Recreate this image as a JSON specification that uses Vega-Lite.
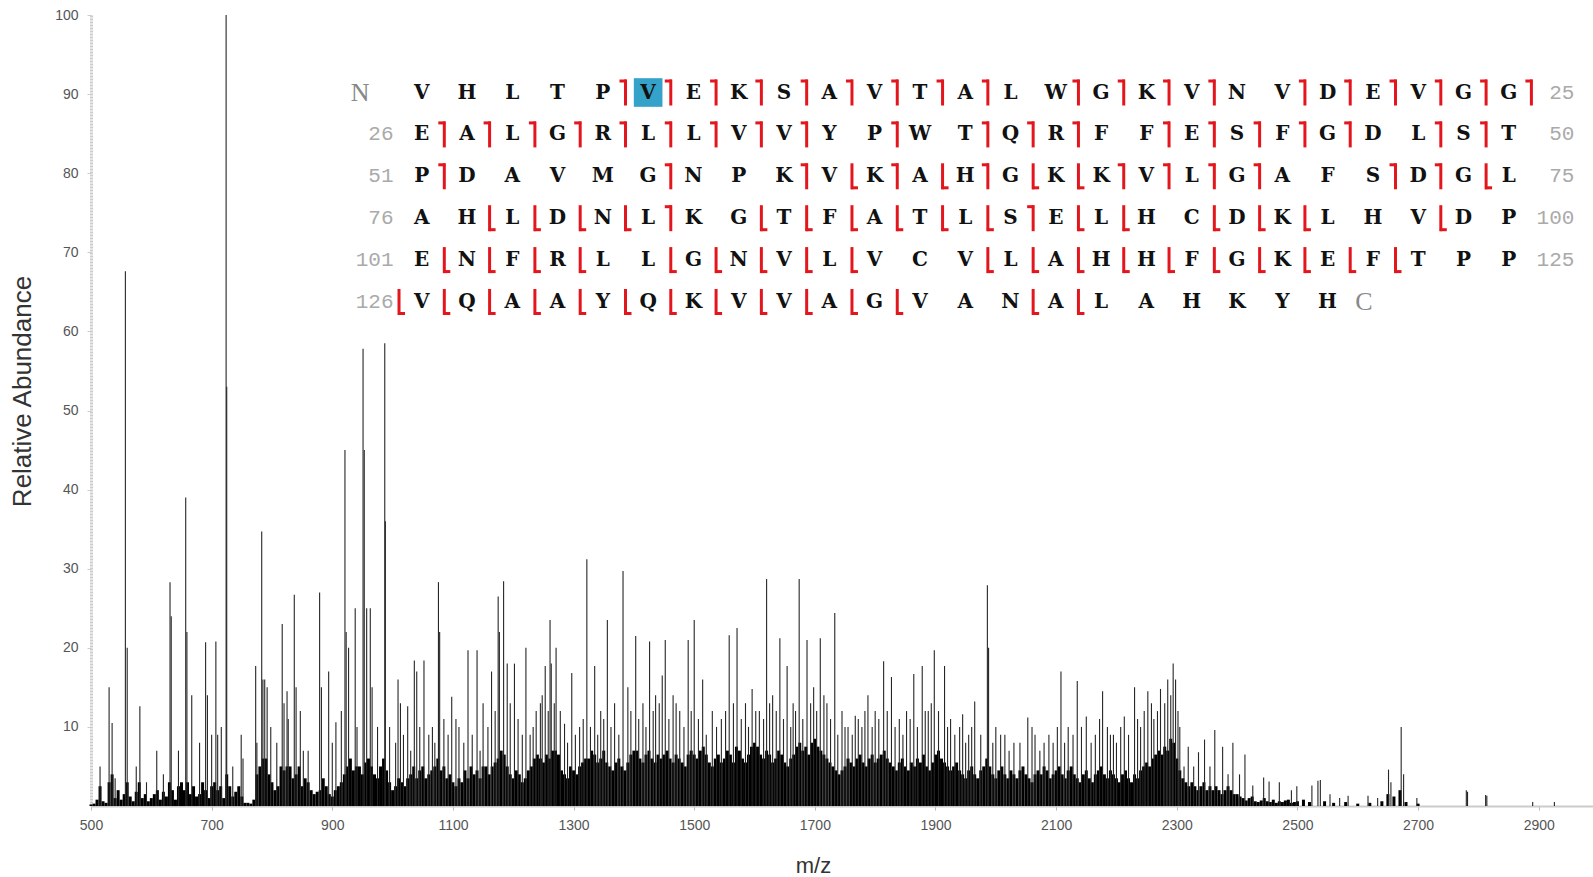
{
"$schema": "https://vega.github.io/schema/vega-lite/v6.json",
"width": 1502, "height": 791,
"autosize": {"type": "none"},
"padding": {"left": 91, "top": 15, "right": 0, "bottom": 71},
"background": "white",
"config": {"view": {"stroke": null}, "font": "Liberation Sans"},
"datasets": {
"grass": [
{"mz":500,"i":0.2},{"mz":505,"i":0.3},{"mz":510,"i":0.8},{"mz":515,"i":2.5},{"mz":520,"i":0.6},{"mz":525,"i":0.4},{"mz":530,"i":3},{"mz":535,"i":4},{"mz":540,"i":1},{"mz":545,"i":2},
{"mz":550,"i":0.8},{"mz":555,"i":1.5},{"mz":560,"i":3},{"mz":565,"i":1.2},{"mz":570,"i":0.6},{"mz":575,"i":1.8},{"mz":580,"i":3},{"mz":585,"i":1},{"mz":590,"i":1.5},{"mz":595,"i":0.6},
{"mz":600,"i":1},{"mz":605,"i":1.5},{"mz":610,"i":2},{"mz":615,"i":0.8},{"mz":620,"i":1.8},{"mz":625,"i":1.2},{"mz":630,"i":3},{"mz":635,"i":2},{"mz":640,"i":0.8},{"mz":645,"i":2.5},
{"mz":650,"i":3},{"mz":655,"i":2},{"mz":660,"i":3},{"mz":665,"i":1.5},{"mz":670,"i":2.5},{"mz":675,"i":1.2},{"mz":680,"i":1.5},{"mz":685,"i":3},{"mz":690,"i":2},{"mz":695,"i":1},
{"mz":700,"i":2.5},{"mz":705,"i":3},{"mz":710,"i":2},{"mz":715,"i":2.5},{"mz":720,"i":1},{"mz":725,"i":4},{"mz":730,"i":2.5},{"mz":735,"i":1.2},{"mz":740,"i":1.8},{"mz":745,"i":2.5},
{"mz":750,"i":1.2},{"mz":755,"i":0.4},{"mz":760,"i":0.4},{"mz":765,"i":0.3},{"mz":770,"i":0.8},{"mz":775,"i":4},{"mz":780,"i":5},{"mz":785,"i":6},{"mz":790,"i":6},{"mz":795,"i":4},
{"mz":800,"i":3},{"mz":805,"i":2},{"mz":810,"i":2.5},{"mz":815,"i":5},{"mz":820,"i":4.5},{"mz":825,"i":5},{"mz":830,"i":5},{"mz":835,"i":3.5},{"mz":840,"i":4},{"mz":845,"i":5},
{"mz":850,"i":2.5},{"mz":855,"i":3.5},{"mz":860,"i":3},{"mz":865,"i":2},{"mz":870,"i":1.5},{"mz":875,"i":1.8},{"mz":880,"i":2},{"mz":885,"i":3.5},{"mz":890,"i":2.5},{"mz":895,"i":1.5},
{"mz":900,"i":1.2},{"mz":905,"i":2},{"mz":910,"i":2.5},{"mz":915,"i":3},{"mz":920,"i":4},{"mz":925,"i":5},{"mz":930,"i":6},{"mz":935,"i":4.5},{"mz":940,"i":5},{"mz":945,"i":5},
{"mz":950,"i":4},{"mz":955,"i":5.5},{"mz":960,"i":6},{"mz":965,"i":5},{"mz":970,"i":4},{"mz":975,"i":3.5},{"mz":980,"i":5},{"mz":985,"i":6},{"mz":990,"i":4.5},{"mz":995,"i":3},
{"mz":1000,"i":2},{"mz":1005,"i":2.5},{"mz":1010,"i":3.5},{"mz":1015,"i":3},{"mz":1020,"i":2.5},{"mz":1025,"i":3.5},{"mz":1030,"i":4},{"mz":1035,"i":5},{"mz":1040,"i":3.5},{"mz":1045,"i":4.5},
{"mz":1050,"i":5},{"mz":1055,"i":3.5},{"mz":1060,"i":4},{"mz":1065,"i":4.5},{"mz":1070,"i":5},{"mz":1075,"i":6},{"mz":1080,"i":4.5},{"mz":1085,"i":5},{"mz":1090,"i":3.5},{"mz":1095,"i":4},
{"mz":1100,"i":3},{"mz":1105,"i":2.5},{"mz":1110,"i":3.5},{"mz":1115,"i":3},{"mz":1120,"i":4.5},{"mz":1125,"i":3.5},{"mz":1130,"i":5},{"mz":1135,"i":4},{"mz":1140,"i":4.5},{"mz":1145,"i":3.5},
{"mz":1150,"i":5},{"mz":1155,"i":5},{"mz":1160,"i":4},{"mz":1165,"i":5},{"mz":1170,"i":5.5},{"mz":1175,"i":6},{"mz":1180,"i":7},{"mz":1185,"i":6.5},{"mz":1190,"i":5},{"mz":1195,"i":4},
{"mz":1200,"i":3.5},{"mz":1205,"i":4.5},{"mz":1210,"i":4},{"mz":1215,"i":3},{"mz":1220,"i":3.5},{"mz":1225,"i":4.5},{"mz":1230,"i":5},{"mz":1235,"i":6},{"mz":1240,"i":6.5},{"mz":1245,"i":6},
{"mz":1250,"i":5.5},{"mz":1255,"i":6.5},{"mz":1260,"i":6},{"mz":1265,"i":7},{"mz":1270,"i":7},{"mz":1275,"i":6.5},{"mz":1280,"i":4.5},{"mz":1285,"i":4},{"mz":1290,"i":3.5},{"mz":1295,"i":5},
{"mz":1300,"i":4.5},{"mz":1305,"i":4},{"mz":1310,"i":5},{"mz":1315,"i":5.5},{"mz":1320,"i":6},{"mz":1325,"i":6},{"mz":1330,"i":7},{"mz":1335,"i":6.5},{"mz":1340,"i":5.5},{"mz":1345,"i":6},
{"mz":1350,"i":7},{"mz":1355,"i":5.5},{"mz":1360,"i":5},{"mz":1365,"i":4.5},{"mz":1370,"i":5.5},{"mz":1375,"i":6},{"mz":1380,"i":5},{"mz":1385,"i":4.5},{"mz":1390,"i":5.5},{"mz":1395,"i":6.5},
{"mz":1400,"i":7},{"mz":1405,"i":7},{"mz":1410,"i":6},{"mz":1415,"i":5.5},{"mz":1420,"i":6.5},{"mz":1425,"i":7},{"mz":1430,"i":6},{"mz":1435,"i":5.5},{"mz":1440,"i":6.5},{"mz":1445,"i":6},
{"mz":1450,"i":6.5},{"mz":1455,"i":7},{"mz":1460,"i":6},{"mz":1465,"i":5.5},{"mz":1470,"i":6.5},{"mz":1475,"i":6},{"mz":1480,"i":5.5},{"mz":1485,"i":5},{"mz":1490,"i":6.5},{"mz":1495,"i":7},
{"mz":1500,"i":6.5},{"mz":1505,"i":6},{"mz":1510,"i":7},{"mz":1515,"i":7.5},{"mz":1520,"i":6.5},{"mz":1525,"i":5.5},{"mz":1530,"i":5},{"mz":1535,"i":6},{"mz":1540,"i":6.5},{"mz":1545,"i":5.5},
{"mz":1550,"i":6},{"mz":1555,"i":7},{"mz":1560,"i":6.5},{"mz":1565,"i":5.5},{"mz":1570,"i":7.5},{"mz":1575,"i":7},{"mz":1580,"i":6},{"mz":1585,"i":5.5},{"mz":1590,"i":6.5},{"mz":1595,"i":7.5},
{"mz":1600,"i":8},{"mz":1605,"i":7.5},{"mz":1610,"i":6.5},{"mz":1615,"i":6},{"mz":1620,"i":7},{"mz":1625,"i":6.5},{"mz":1630,"i":5.5},{"mz":1635,"i":6},{"mz":1640,"i":7},{"mz":1645,"i":6.5},
{"mz":1650,"i":5.5},{"mz":1655,"i":5},{"mz":1660,"i":6},{"mz":1665,"i":6.5},{"mz":1670,"i":7.5},{"mz":1675,"i":8},{"mz":1680,"i":7},{"mz":1685,"i":7.5},{"mz":1690,"i":6.5},{"mz":1695,"i":8},
{"mz":1700,"i":8.5},{"mz":1705,"i":7.5},{"mz":1710,"i":7},{"mz":1715,"i":6.5},{"mz":1720,"i":6},{"mz":1725,"i":5.5},{"mz":1730,"i":5},{"mz":1735,"i":4.5},{"mz":1740,"i":4},{"mz":1745,"i":4.5},
{"mz":1750,"i":5},{"mz":1755,"i":6},{"mz":1760,"i":5.5},{"mz":1765,"i":5},{"mz":1770,"i":6},{"mz":1775,"i":6.5},{"mz":1780,"i":5.5},{"mz":1785,"i":5},{"mz":1790,"i":6},{"mz":1795,"i":6.5},
{"mz":1800,"i":5.5},{"mz":1805,"i":6},{"mz":1810,"i":6.5},{"mz":1815,"i":7},{"mz":1820,"i":6},{"mz":1825,"i":5.5},{"mz":1830,"i":5},{"mz":1835,"i":4.5},{"mz":1840,"i":5.5},{"mz":1845,"i":6},
{"mz":1850,"i":5},{"mz":1855,"i":4.5},{"mz":1860,"i":5.5},{"mz":1865,"i":5},{"mz":1870,"i":6},{"mz":1875,"i":5.5},{"mz":1880,"i":6.5},{"mz":1885,"i":5},{"mz":1890,"i":4.5},{"mz":1895,"i":5.5},
{"mz":1900,"i":6.5},{"mz":1905,"i":7},{"mz":1910,"i":6},{"mz":1915,"i":5.5},{"mz":1920,"i":5},{"mz":1925,"i":4.5},{"mz":1930,"i":5},{"mz":1935,"i":5.5},{"mz":1940,"i":4.5},{"mz":1945,"i":4},
{"mz":1950,"i":3.5},{"mz":1955,"i":4.5},{"mz":1960,"i":5},{"mz":1965,"i":4},{"mz":1970,"i":3.5},{"mz":1975,"i":4.5},{"mz":1980,"i":5},{"mz":1985,"i":6},{"mz":1990,"i":5},{"mz":1995,"i":4},
{"mz":2000,"i":3.5},{"mz":2005,"i":4.5},{"mz":2010,"i":5},{"mz":2015,"i":4},{"mz":2020,"i":3.5},{"mz":2025,"i":4.5},{"mz":2030,"i":4},{"mz":2035,"i":3.5},{"mz":2040,"i":4.5},{"mz":2045,"i":5},
{"mz":2050,"i":4},{"mz":2055,"i":3.5},{"mz":2060,"i":3},{"mz":2065,"i":4},{"mz":2070,"i":4.5},{"mz":2075,"i":4},{"mz":2080,"i":5},{"mz":2085,"i":4.5},{"mz":2090,"i":3.5},{"mz":2095,"i":4},
{"mz":2100,"i":4.5},{"mz":2105,"i":5},{"mz":2110,"i":4},{"mz":2115,"i":3.5},{"mz":2120,"i":4.5},{"mz":2125,"i":5},{"mz":2130,"i":4},{"mz":2135,"i":3.5},{"mz":2140,"i":3},{"mz":2145,"i":4},
{"mz":2150,"i":4.5},{"mz":2155,"i":3.5},{"mz":2160,"i":3},{"mz":2165,"i":4},{"mz":2170,"i":4.5},{"mz":2175,"i":5},{"mz":2180,"i":4},{"mz":2185,"i":3.5},{"mz":2190,"i":4.5},{"mz":2195,"i":4},
{"mz":2200,"i":3.5},{"mz":2205,"i":3},{"mz":2210,"i":4},{"mz":2215,"i":4.5},{"mz":2220,"i":3.5},{"mz":2225,"i":3},{"mz":2230,"i":4},{"mz":2235,"i":3.5},{"mz":2240,"i":4.5},{"mz":2245,"i":5},
{"mz":2250,"i":5.5},{"mz":2255,"i":5},{"mz":2260,"i":6},{"mz":2265,"i":6.5},{"mz":2270,"i":7},{"mz":2275,"i":6.5},{"mz":2280,"i":7.5},{"mz":2285,"i":7},{"mz":2290,"i":8.5},{"mz":2295,"i":8},
{"mz":2300,"i":6},{"mz":2305,"i":4.5},{"mz":2310,"i":3.5},{"mz":2315,"i":3},{"mz":2320,"i":2.5},{"mz":2325,"i":3},{"mz":2330,"i":2.5},{"mz":2335,"i":2},{"mz":2340,"i":2.5},{"mz":2345,"i":3},
{"mz":2350,"i":2},{"mz":2355,"i":2.5},{"mz":2360,"i":2},{"mz":2365,"i":2.5},{"mz":2370,"i":2},{"mz":2375,"i":1.5},{"mz":2380,"i":2},{"mz":2385,"i":2.5},{"mz":2390,"i":2},{"mz":2395,"i":1.5},
{"mz":2400,"i":1.5},{"mz":2405,"i":1.2},{"mz":2410,"i":1},{"mz":2415,"i":0.7},{"mz":2420,"i":1},{"mz":2425,"i":1.2},{"mz":2430,"i":0.6},{"mz":2435,"i":0.5},{"mz":2440,"i":0.7},{"mz":2445,"i":1},
{"mz":2450,"i":0.6},{"mz":2455,"i":0.5},{"mz":2460,"i":0.8},{"mz":2465,"i":0.4},{"mz":2470,"i":0.6},{"mz":2475,"i":0.5},{"mz":2480,"i":0.7},{"mz":2485,"i":0.8},{"mz":2490,"i":0.4},{"mz":2495,"i":0.5},
{"mz":2500,"i":0.6},{"mz":2510,"i":0.8},{"mz":2520,"i":0.5},{"mz":2545,"i":0.6},{"mz":2560,"i":0.4},{"mz":2580,"i":0.5},{"mz":2600,"i":0.3},{"mz":2620,"i":0.4},{"mz":2640,"i":0.6},{"mz":2650,"i":1.5},{"mz":2660,"i":1.2},{"mz":2670,"i":2},{"mz":2680,"i":0.5},{"mz":2700,"i":0.3}
],
"peaks": [
{"mz":515,"i":5},{"mz":530,"i":15},{"mz":535,"i":10.5},{"mz":540,"i":3.5},{"mz":557,"i":67.6},{"mz":560,"i":20},{"mz":575,"i":5},{"mz":581,"i":12.6},{"mz":592,"i":3},{"mz":609,"i":7},{"mz":620,"i":4},{"mz":631,"i":28.3},{"mz":633,"i":24},{"mz":645,"i":7},{"mz":657,"i":39},{"mz":659,"i":22},{"mz":667,"i":14},{"mz":680,"i":8},{"mz":690,"i":20.7},{"mz":693,"i":14},{"mz":700,"i":9},{"mz":707,"i":20.8},{"mz":710,"i":9},{"mz":716,"i":10},{"mz":724,"i":100},{"mz":725,"i":53},{"mz":735,"i":5},{"mz":749,"i":9},{"mz":752,"i":6},
{"mz":773,"i":17.7},{"mz":775,"i":8},{"mz":783,"i":34.7},{"mz":785,"i":16},{"mz":788,"i":16},{"mz":792,"i":15},{"mz":798,"i":10},{"mz":808,"i":8},{"mz":817,"i":23},{"mz":820,"i":13},{"mz":825,"i":14.5},{"mz":827,"i":11},{"mz":837,"i":26.7},{"mz":840,"i":15},{"mz":847,"i":12},{"mz":852,"i":7},{"mz":860,"i":7},{"mz":879,"i":27},{"mz":882,"i":15},{"mz":894,"i":17},{"mz":900,"i":8},{"mz":906,"i":10.6},{"mz":915,"i":12},{"mz":921,"i":45},{"mz":923,"i":22},{"mz":927,"i":20},{"mz":938,"i":25},{"mz":941,"i":10},{"mz":951,"i":57.8},{"mz":953,"i":45},{"mz":957,"i":25},{"mz":963,"i":25},{"mz":966,"i":15},{"mz":975,"i":10},{"mz":987,"i":58.5},{"mz":988,"i":36},{"mz":995,"i":10},
{"mz":1005,"i":8},{"mz":1009,"i":16},{"mz":1013,"i":13},{"mz":1018,"i":9},{"mz":1025,"i":12.6},{"mz":1030,"i":7},{"mz":1036,"i":18.4},{"mz":1040,"i":17},{"mz":1045,"i":10},{"mz":1052,"i":18.4},{"mz":1060,"i":9},{"mz":1066,"i":10},{"mz":1070,"i":8},{"mz":1076,"i":28.3},{"mz":1078,"i":22},{"mz":1085,"i":11},{"mz":1092,"i":9},{"mz":1098,"i":13.8},{"mz":1105,"i":11},{"mz":1110,"i":10},{"mz":1118,"i":8},{"mz":1125,"i":19.7},{"mz":1132,"i":9},{"mz":1140,"i":19.7},{"mz":1145,"i":7},{"mz":1150,"i":13},{"mz":1158,"i":10},{"mz":1164,"i":17},{"mz":1170,"i":12},{"mz":1175,"i":26.5},{"mz":1177,"i":22},{"mz":1184,"i":28.4},{"mz":1190,"i":18},{"mz":1195,"i":13},
{"mz":1202,"i":18},{"mz":1208,"i":11},{"mz":1215,"i":9},{"mz":1221,"i":20},{"mz":1228,"i":9},{"mz":1233,"i":10},{"mz":1238,"i":12},{"mz":1245,"i":13},{"mz":1248,"i":14},{"mz":1253,"i":17.7},{"mz":1258,"i":12},{"mz":1261,"i":23.5},{"mz":1263,"i":18},{"mz":1268,"i":13},{"mz":1271,"i":20},{"mz":1278,"i":12},{"mz":1285,"i":10.4},{"mz":1290,"i":8},{"mz":1297,"i":16.8},{"mz":1303,"i":9},{"mz":1310,"i":10},{"mz":1316,"i":11},{"mz":1322,"i":31.2},{"mz":1328,"i":10},{"mz":1335,"i":17.7},{"mz":1340,"i":9},{"mz":1345,"i":12},{"mz":1350,"i":11},{"mz":1356,"i":23.5},{"mz":1362,"i":10},{"mz":1368,"i":13},{"mz":1375,"i":9},{"mz":1382,"i":29.7},{"mz":1390,"i":15},{"mz":1395,"i":12},
{"mz":1403,"i":21.5},{"mz":1408,"i":11},{"mz":1415,"i":13},{"mz":1420,"i":10},{"mz":1426,"i":20.8},{"mz":1432,"i":12},{"mz":1436,"i":14},{"mz":1442,"i":13},{"mz":1447,"i":16.5},{"mz":1452,"i":21},{"mz":1458,"i":11},{"mz":1465,"i":14},{"mz":1470,"i":13},{"mz":1476,"i":12},{"mz":1483,"i":10},{"mz":1490,"i":21},{"mz":1495,"i":12},{"mz":1500,"i":23.5},{"mz":1507,"i":11},{"mz":1514,"i":16},{"mz":1520,"i":9},{"mz":1530,"i":12},{"mz":1537,"i":10},{"mz":1545,"i":11},{"mz":1552,"i":12},{"mz":1558,"i":21.6},{"mz":1565,"i":13},{"mz":1571,"i":22.5},{"mz":1578,"i":11},{"mz":1585,"i":13},{"mz":1590,"i":10},{"mz":1596,"i":14.8},
{"mz":1602,"i":12},{"mz":1608,"i":12},{"mz":1615,"i":11},{"mz":1620,"i":28.7},{"mz":1625,"i":13},{"mz":1630,"i":14},{"mz":1636,"i":12},{"mz":1642,"i":21.2},{"mz":1648,"i":11},{"mz":1654,"i":17.7},{"mz":1660,"i":10},{"mz":1664,"i":13},{"mz":1668,"i":12},{"mz":1674,"i":28.7},{"mz":1680,"i":11},{"mz":1687,"i":21},{"mz":1693,"i":13},{"mz":1698,"i":15},{"mz":1703,"i":12},{"mz":1709,"i":21.2},{"mz":1715,"i":14},{"mz":1720,"i":13},{"mz":1726,"i":11},{"mz":1733,"i":24.4},{"mz":1738,"i":9},{"mz":1745,"i":12},{"mz":1750,"i":10},{"mz":1755,"i":10},{"mz":1762,"i":9},{"mz":1767,"i":11.4},{"mz":1772,"i":11},{"mz":1778,"i":10},{"mz":1783,"i":12},{"mz":1788,"i":14},{"mz":1795,"i":10},
{"mz":1800,"i":12},{"mz":1806,"i":11},{"mz":1814,"i":18.3},{"mz":1820,"i":12},{"mz":1827,"i":16.3},{"mz":1833,"i":10},{"mz":1840,"i":11},{"mz":1846,"i":9},{"mz":1852,"i":12},{"mz":1858,"i":11},{"mz":1864,"i":16.7},{"mz":1870,"i":10},{"mz":1878,"i":17.7},{"mz":1883,"i":12},{"mz":1888,"i":12},{"mz":1893,"i":13},{"mz":1898,"i":19.7},{"mz":1905,"i":12},{"mz":1915,"i":17.7},{"mz":1920,"i":10},{"mz":1925,"i":11},{"mz":1932,"i":9},{"mz":1940,"i":10},{"mz":1945,"i":11.6},{"mz":1950,"i":8},{"mz":1955,"i":9},{"mz":1960,"i":10},{"mz":1965,"i":13.2},{"mz":1975,"i":9},{"mz":1986,"i":27.9},{"mz":1988,"i":20},{"mz":1995,"i":8},
{"mz":2000,"i":10},{"mz":2008,"i":9},{"mz":2015,"i":9},{"mz":2022,"i":7},{"mz":2030,"i":8},{"mz":2040,"i":8},{"mz":2053,"i":11.2},{"mz":2060,"i":10},{"mz":2065,"i":9},{"mz":2073,"i":7},{"mz":2080,"i":8},{"mz":2088,"i":9},{"mz":2095,"i":8},{"mz":2102,"i":10},{"mz":2108,"i":17},{"mz":2114,"i":8},{"mz":2120,"i":10},{"mz":2128,"i":9},{"mz":2135,"i":15.8},{"mz":2142,"i":10},{"mz":2150,"i":11.3},{"mz":2158,"i":8},{"mz":2165,"i":9},{"mz":2172,"i":11},{"mz":2177,"i":14.5},{"mz":2185,"i":10},{"mz":2190,"i":9},{"mz":2195,"i":9},
{"mz":2200,"i":8},{"mz":2207,"i":10},{"mz":2213,"i":11.3},{"mz":2220,"i":9},{"mz":2230,"i":15},{"mz":2235,"i":11},{"mz":2240,"i":10},{"mz":2246,"i":12},{"mz":2252,"i":14.5},{"mz":2258,"i":13},{"mz":2262,"i":11},{"mz":2268,"i":12},{"mz":2273,"i":14.8},{"mz":2280,"i":13},{"mz":2285,"i":16},{"mz":2290,"i":14},{"mz":2294,"i":18},{"mz":2298,"i":16},{"mz":2302,"i":12},{"mz":2305,"i":10},{"mz":2312,"i":5},{"mz":2319,"i":7.5},{"mz":2328,"i":5},{"mz":2336,"i":6.8},{"mz":2346,"i":8.4},{"mz":2355,"i":5},{"mz":2363,"i":9.6},{"mz":2376,"i":7.5},{"mz":2385,"i":4},{"mz":2393,"i":8},{"mz":2404,"i":4},{"mz":2413,"i":6.5},
{"mz":2426,"i":2.6},{"mz":2444,"i":3.6},{"mz":2453,"i":3.1},{"mz":2470,"i":3},{"mz":2490,"i":2},{"mz":2499,"i":2.5},{"mz":2524,"i":2.6},{"mz":2534,"i":3.2},{"mz":2538,"i":3.3},{"mz":2554,"i":1.5},{"mz":2570,"i":1},{"mz":2584,"i":1.3},{"mz":2617,"i":1.3},{"mz":2633,"i":1},{"mz":2651,"i":4.6},{"mz":2655,"i":3},{"mz":2672,"i":10},{"mz":2676,"i":4},{"mz":2698,"i":1},{"mz":2780,"i":2},{"mz":2782,"i":1.8},{"mz":2812,"i":1.4},{"mz":2814,"i":1.3},{"mz":2890,"i":0.5},{"mz":2926,"i":0.5}
],
"residues": [
{"a":"V","c":0,"r":0},{"a":"H","c":1,"r":0},{"a":"L","c":2,"r":0},{"a":"T","c":3,"r":0},{"a":"P","c":4,"r":0},{"a":"V","c":5,"r":0},{"a":"E","c":6,"r":0},{"a":"K","c":7,"r":0},{"a":"S","c":8,"r":0},{"a":"A","c":9,"r":0},{"a":"V","c":10,"r":0},{"a":"T","c":11,"r":0},{"a":"A","c":12,"r":0},{"a":"L","c":13,"r":0},{"a":"W","c":14,"r":0},{"a":"G","c":15,"r":0},{"a":"K","c":16,"r":0},{"a":"V","c":17,"r":0},{"a":"N","c":18,"r":0},{"a":"V","c":19,"r":0},{"a":"D","c":20,"r":0},{"a":"E","c":21,"r":0},{"a":"V","c":22,"r":0},{"a":"G","c":23,"r":0},{"a":"G","c":24,"r":0},
{"a":"E","c":0,"r":1},{"a":"A","c":1,"r":1},{"a":"L","c":2,"r":1},{"a":"G","c":3,"r":1},{"a":"R","c":4,"r":1},{"a":"L","c":5,"r":1},{"a":"L","c":6,"r":1},{"a":"V","c":7,"r":1},{"a":"V","c":8,"r":1},{"a":"Y","c":9,"r":1},{"a":"P","c":10,"r":1},{"a":"W","c":11,"r":1},{"a":"T","c":12,"r":1},{"a":"Q","c":13,"r":1},{"a":"R","c":14,"r":1},{"a":"F","c":15,"r":1},{"a":"F","c":16,"r":1},{"a":"E","c":17,"r":1},{"a":"S","c":18,"r":1},{"a":"F","c":19,"r":1},{"a":"G","c":20,"r":1},{"a":"D","c":21,"r":1},{"a":"L","c":22,"r":1},{"a":"S","c":23,"r":1},{"a":"T","c":24,"r":1},
{"a":"P","c":0,"r":2},{"a":"D","c":1,"r":2},{"a":"A","c":2,"r":2},{"a":"V","c":3,"r":2},{"a":"M","c":4,"r":2},{"a":"G","c":5,"r":2},{"a":"N","c":6,"r":2},{"a":"P","c":7,"r":2},{"a":"K","c":8,"r":2},{"a":"V","c":9,"r":2},{"a":"K","c":10,"r":2},{"a":"A","c":11,"r":2},{"a":"H","c":12,"r":2},{"a":"G","c":13,"r":2},{"a":"K","c":14,"r":2},{"a":"K","c":15,"r":2},{"a":"V","c":16,"r":2},{"a":"L","c":17,"r":2},{"a":"G","c":18,"r":2},{"a":"A","c":19,"r":2},{"a":"F","c":20,"r":2},{"a":"S","c":21,"r":2},{"a":"D","c":22,"r":2},{"a":"G","c":23,"r":2},{"a":"L","c":24,"r":2},
{"a":"A","c":0,"r":3},{"a":"H","c":1,"r":3},{"a":"L","c":2,"r":3},{"a":"D","c":3,"r":3},{"a":"N","c":4,"r":3},{"a":"L","c":5,"r":3},{"a":"K","c":6,"r":3},{"a":"G","c":7,"r":3},{"a":"T","c":8,"r":3},{"a":"F","c":9,"r":3},{"a":"A","c":10,"r":3},{"a":"T","c":11,"r":3},{"a":"L","c":12,"r":3},{"a":"S","c":13,"r":3},{"a":"E","c":14,"r":3},{"a":"L","c":15,"r":3},{"a":"H","c":16,"r":3},{"a":"C","c":17,"r":3},{"a":"D","c":18,"r":3},{"a":"K","c":19,"r":3},{"a":"L","c":20,"r":3},{"a":"H","c":21,"r":3},{"a":"V","c":22,"r":3},{"a":"D","c":23,"r":3},{"a":"P","c":24,"r":3},
{"a":"E","c":0,"r":4},{"a":"N","c":1,"r":4},{"a":"F","c":2,"r":4},{"a":"R","c":3,"r":4},{"a":"L","c":4,"r":4},{"a":"L","c":5,"r":4},{"a":"G","c":6,"r":4},{"a":"N","c":7,"r":4},{"a":"V","c":8,"r":4},{"a":"L","c":9,"r":4},{"a":"V","c":10,"r":4},{"a":"C","c":11,"r":4},{"a":"V","c":12,"r":4},{"a":"L","c":13,"r":4},{"a":"A","c":14,"r":4},{"a":"H","c":15,"r":4},{"a":"H","c":16,"r":4},{"a":"F","c":17,"r":4},{"a":"G","c":18,"r":4},{"a":"K","c":19,"r":4},{"a":"E","c":20,"r":4},{"a":"F","c":21,"r":4},{"a":"T","c":22,"r":4},{"a":"P","c":23,"r":4},{"a":"P","c":24,"r":4},
{"a":"V","c":0,"r":5},{"a":"Q","c":1,"r":5},{"a":"A","c":2,"r":5},{"a":"A","c":3,"r":5},{"a":"Y","c":4,"r":5},{"a":"Q","c":5,"r":5},{"a":"K","c":6,"r":5},{"a":"V","c":7,"r":5},{"a":"V","c":8,"r":5},{"a":"A","c":9,"r":5},{"a":"G","c":10,"r":5},{"a":"V","c":11,"r":5},{"a":"A","c":12,"r":5},{"a":"N","c":13,"r":5},{"a":"A","c":14,"r":5},{"a":"L","c":15,"r":5},{"a":"A","c":16,"r":5},{"a":"H","c":17,"r":5},{"a":"K","c":18,"r":5},{"a":"Y","c":19,"r":5},{"a":"H","c":20,"r":5}
],
"cuts": [
{"c":4.5,"r":0,"k":"b"},{"c":5.5,"r":0,"k":"b"},{"c":6.5,"r":0,"k":"b"},{"c":7.5,"r":0,"k":"b"},{"c":8.5,"r":0,"k":"b"},{"c":9.5,"r":0,"k":"b"},{"c":10.5,"r":0,"k":"b"},{"c":11.5,"r":0,"k":"b"},{"c":12.5,"r":0,"k":"b"},{"c":14.5,"r":0,"k":"b"},{"c":15.5,"r":0,"k":"b"},{"c":16.5,"r":0,"k":"b"},{"c":17.5,"r":0,"k":"b"},{"c":19.5,"r":0,"k":"b"},{"c":20.5,"r":0,"k":"b"},{"c":21.5,"r":0,"k":"b"},{"c":22.5,"r":0,"k":"b"},{"c":23.5,"r":0,"k":"b"},{"c":24.5,"r":0,"k":"b"},
{"c":0.5,"r":1,"k":"b"},{"c":1.5,"r":1,"k":"b"},{"c":2.5,"r":1,"k":"b"},{"c":3.5,"r":1,"k":"b"},{"c":4.5,"r":1,"k":"b"},{"c":5.5,"r":1,"k":"b"},{"c":6.5,"r":1,"k":"b"},{"c":7.5,"r":1,"k":"b"},{"c":8.5,"r":1,"k":"b"},{"c":10.5,"r":1,"k":"b"},{"c":12.5,"r":1,"k":"b"},{"c":13.5,"r":1,"k":"b"},{"c":14.5,"r":1,"k":"b"},{"c":16.5,"r":1,"k":"b"},{"c":17.5,"r":1,"k":"b"},{"c":18.5,"r":1,"k":"b"},{"c":19.5,"r":1,"k":"b"},{"c":20.5,"r":1,"k":"b"},{"c":22.5,"r":1,"k":"b"},{"c":23.5,"r":1,"k":"b"},
{"c":0.5,"r":2,"k":"b"},{"c":5.5,"r":2,"k":"b"},{"c":8.5,"r":2,"k":"b"},{"c":9.5,"r":2,"k":"y"},{"c":10.5,"r":2,"k":"b"},{"c":11.5,"r":2,"k":"y"},{"c":12.5,"r":2,"k":"b"},{"c":13.5,"r":2,"k":"y"},{"c":14.5,"r":2,"k":"y"},{"c":15.5,"r":2,"k":"b"},{"c":16.5,"r":2,"k":"b"},{"c":17.5,"r":2,"k":"b"},{"c":18.5,"r":2,"k":"b"},{"c":21.5,"r":2,"k":"b"},{"c":22.5,"r":2,"k":"b"},{"c":23.5,"r":2,"k":"y"},
{"c":1.5,"r":3,"k":"y"},{"c":2.5,"r":3,"k":"y"},{"c":3.5,"r":3,"k":"y"},{"c":4.5,"r":3,"k":"y"},{"c":5.5,"r":3,"k":"b"},{"c":7.5,"r":3,"k":"y"},{"c":8.5,"r":3,"k":"y"},{"c":9.5,"r":3,"k":"y"},{"c":10.5,"r":3,"k":"y"},{"c":11.5,"r":3,"k":"y"},{"c":12.5,"r":3,"k":"y"},{"c":13.5,"r":3,"k":"b"},{"c":14.5,"r":3,"k":"y"},{"c":15.5,"r":3,"k":"y"},{"c":17.5,"r":3,"k":"y"},{"c":18.5,"r":3,"k":"y"},{"c":19.5,"r":3,"k":"y"},{"c":22.5,"r":3,"k":"y"},
{"c":0.5,"r":4,"k":"y"},{"c":1.5,"r":4,"k":"y"},{"c":2.5,"r":4,"k":"y"},{"c":3.5,"r":4,"k":"y"},{"c":5.5,"r":4,"k":"y"},{"c":6.5,"r":4,"k":"y"},{"c":7.5,"r":4,"k":"y"},{"c":8.5,"r":4,"k":"y"},{"c":9.5,"r":4,"k":"y"},{"c":12.5,"r":4,"k":"y"},{"c":13.5,"r":4,"k":"y"},{"c":14.5,"r":4,"k":"y"},{"c":15.5,"r":4,"k":"y"},{"c":16.5,"r":4,"k":"y"},{"c":17.5,"r":4,"k":"y"},{"c":18.5,"r":4,"k":"y"},{"c":19.5,"r":4,"k":"y"},{"c":20.5,"r":4,"k":"y"},{"c":21.5,"r":4,"k":"y"},
{"c":-0.5,"r":5,"k":"y"},{"c":0.5,"r":5,"k":"y"},{"c":1.5,"r":5,"k":"y"},{"c":2.5,"r":5,"k":"y"},{"c":3.5,"r":5,"k":"y"},{"c":4.5,"r":5,"k":"y"},{"c":5.5,"r":5,"k":"y"},{"c":6.5,"r":5,"k":"y"},{"c":7.5,"r":5,"k":"y"},{"c":8.5,"r":5,"k":"y"},{"c":9.5,"r":5,"k":"y"},{"c":10.5,"r":5,"k":"y"},{"c":13.5,"r":5,"k":"y"},{"c":14.5,"r":5,"k":"y"}
],
"nums": [
{"t":"26","r":1,"s":"L"},{"t":"51","r":2,"s":"L"},{"t":"76","r":3,"s":"L"},{"t":"101","r":4,"s":"L"},{"t":"126","r":5,"s":"L"},
{"t":"25","r":0,"s":"R"},{"t":"50","r":1,"s":"R"},{"t":"75","r":2,"s":"R"},{"t":"100","r":3,"s":"R"},{"t":"125","r":4,"s":"R"}
],
"ends": [{"a":"N","c":-1.36,"r":0},{"a":"C","c":20.8,"r":5}],
"hl": [{"c":5,"r":0}]
},
"layer": [
{
"layer": [
{"data": {"name": "grass"}, "mark": {"type": "rule", "color": "#000000", "strokeWidth": 3},
 "encoding": {"x": {"field": "mz", "type": "quantitative", "scale": {"domain": [500, 2990], "nice": false, "zero": false},
   "axis": {"values": [500,700,900,1100,1300,1500,1700,1900,2100,2300,2500,2700,2900], "format": "d", "labelFlush": false, "grid": false, "labelColor": "#555555", "labelFontSize": 14, "labelPadding": 8, "tickColor": "#bbbbbb", "tickSize": 4, "domainColor": "#cccccc", "domainWidth": 2,
   "title": "m/z", "titleFontSize": 22, "titleFontWeight": "normal", "titleColor": "#333333", "titleX": 722, "titleY": 59, "titleBaseline": "middle"}},
  "y": {"field": "i", "type": "quantitative", "scale": {"domain": [0, 100], "nice": false},
   "axis": {"values": [10,20,30,40,50,60,70,80,90,100], "grid": false, "labelColor": "#555555", "labelFontSize": 14, "labelPadding": 9, "tickColor": "#cccccc", "tickSize": 4, "domainColor": "#cccccc", "domainWidth": 3, "domainDash": [2, 1],
   "title": "Relative Abundance", "titleFontSize": 26, "titleFontWeight": "normal", "titleColor": "#333333", "titleX": -56, "titleY": 376}},
  "y2": {"datum": 0}}},
{"data": {"name": "peaks"}, "mark": {"type": "rule", "color": "#262626", "strokeWidth": 1.1},
 "encoding": {"x": {"field": "mz", "type": "quantitative"}, "y": {"field": "i", "type": "quantitative"}, "y2": {"datum": 0}}}
]
},
{
"layer": [
{"data": {"name": "hl"}, "mark": {"type": "point", "shape": "square", "filled": true, "size": 820, "color": "#35a3c9", "opacity": 1},
 "encoding": {"x": {"field": "c", "type": "quantitative", "scale": {"domain": [-7.3, 25.86], "nice": false, "zero": false}, "axis": null},
  "y": {"field": "r", "type": "quantitative", "scale": {"domain": [-1.85, 17.03], "nice": false, "zero": false, "reverse": true}, "axis": null}}},
{"data": {"name": "residues"}, "mark": {"type": "text", "font": "DejaVu Serif", "fontWeight": "bold", "fontSize": 20, "color": "#111111", "baseline": "middle", "align": "center"},
 "encoding": {"x": {"field": "c", "type": "quantitative"}, "y": {"field": "r", "type": "quantitative"}, "text": {"field": "a"}}},
{"data": {"name": "ends"}, "mark": {"type": "text", "font": "Liberation Serif", "fontSize": 26, "color": "#888888", "baseline": "middle", "align": "center"},
 "encoding": {"x": {"field": "c", "type": "quantitative"}, "y": {"field": "r", "type": "quantitative"}, "text": {"field": "a"}}},
{"data": {"name": "nums"}, "transform": [{"filter": "datum.s == 'L'"}], "mark": {"type": "text", "font": "Liberation Mono", "fontSize": 21, "color": "#aaaaaa", "baseline": "middle", "align": "right"},
 "encoding": {"x": {"datum": -0.62}, "y": {"field": "r", "type": "quantitative"}, "text": {"field": "t"}}},
{"data": {"name": "nums"}, "transform": [{"filter": "datum.s == 'R'"}], "mark": {"type": "text", "font": "Liberation Mono", "fontSize": 21, "color": "#aaaaaa", "baseline": "middle", "align": "right"},
 "encoding": {"x": {"datum": 25.45}, "y": {"field": "r", "type": "quantitative"}, "text": {"field": "t"}}},
{"data": {"name": "cuts"}, "mark": {"type": "tick", "orient": "vertical", "size": 26, "thickness": 3, "color": "#e3161d", "opacity": 1},
 "encoding": {"x": {"field": "c", "type": "quantitative"}, "y": {"field": "r", "type": "quantitative"}}},
{"data": {"name": "cuts"}, "transform": [{"filter": "datum.k == 'b'"}], "mark": {"type": "tick", "orient": "horizontal", "size": 7, "thickness": 3, "color": "#e3161d", "opacity": 1, "xOffset": -2.5, "yOffset": -11.5},
 "encoding": {"x": {"field": "c", "type": "quantitative"}, "y": {"field": "r", "type": "quantitative"}}},
{"data": {"name": "cuts"}, "transform": [{"filter": "datum.k == 'y'"}], "mark": {"type": "tick", "orient": "horizontal", "size": 7, "thickness": 3, "color": "#e3161d", "opacity": 1, "xOffset": 2.5, "yOffset": 11.5},
 "encoding": {"x": {"field": "c", "type": "quantitative"}, "y": {"field": "r", "type": "quantitative"}}}
]
}
],
"resolve": {"scale": {"x": "independent", "y": "independent"}, "axis": {"x": "independent", "y": "independent"}}
}
